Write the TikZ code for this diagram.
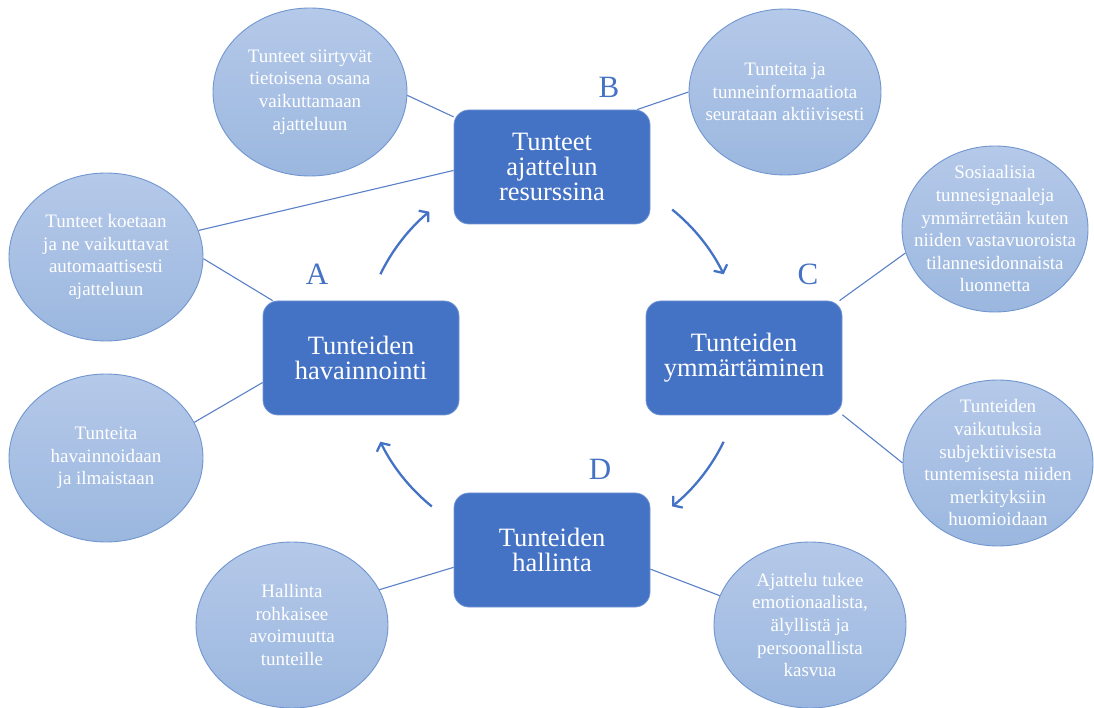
\documentclass[tikz,border=0pt]{standalone}
\usepackage{fontspec}
\setmainfont{Liberation Serif}
\usetikzlibrary{shapes.geometric,arrows.meta}
\definecolor{boxblue}{HTML}{4472C4}
\definecolor{bubtop}{HTML}{B5C9E9}
\definecolor{bubbot}{HTML}{9BB7DF}
\definecolor{bubline}{HTML}{7196D0}
\definecolor{linkblue}{HTML}{5A80C8}
\tikzset{
  x=1pt, y=1pt,
  stagebox/.style={rectangle, rounded corners=15pt, fill=boxblue, draw=boxblue!75!white, line width=0.8pt,
    minimum width=196pt, minimum height=114pt, inner sep=0pt, align=center, text=white,
    font=\fontsize{26.5}{25}\selectfont},
  bub/.style={ellipse, top color=bubtop, bottom color=bubbot, draw=bubline, line width=0.9pt,
    minimum width=#1, minimum height=166pt, inner sep=0pt},
  bubtext/.style={align=center, text=white, inner sep=0pt, font=\fontsize{19}{22.6}\selectfont},
  letter/.style={text=boxblue, font=\fontsize{31}{31}\selectfont, inner sep=0pt},
  link/.style={draw=linkblue, line width=1.1pt},
  cyc/.style={draw=boxblue, line width=2.3pt, -{Straight Barb[length=6pt,width=15pt,line width=2.3pt]}}
}
\begin{document}
\begin{tikzpicture}
\useasboundingbox (0,0) rectangle (1094,707);
% stage boxes
\node[stagebox] (A) at (361,349) {Tunteiden\\havainnointi};
\node[stagebox] (B) at (552,540) {Tunteet\\ajattelun\\resurssina};
\node[stagebox] (C) at (744,349) {Tunteiden\\ymmärtäminen};
\node[stagebox] (D) at (552,157) {Tunteiden\\hallinta};
% letters
\node[letter] (LA) at (317,433) {A};
\node[letter] (LB) at (609,620) {B};
\node[letter] (LC) at (808,433) {C};
\node[letter] (LD) at (600,238) {D};
% bubbles
\node[bub=194pt, minimum height=168pt] (E1) at (310,615) {};
\node[bubtext] (E1t) at (E1) {Tunteet siirtyvät\\tietoisena osana\\vaikuttamaan\\ajatteluun};
\node[bub=192pt] (E2) at (785,615) {};
\node[bubtext] (E2t) at (E2) {Tunteita ja\\tunneinformaatiota\\seurataan aktiivisesti};
\node[bub=186pt] (E3) at (995,478) {};
\node[bubtext] (E3t) at (E3) {Sosiaalisia\\tunnesignaaleja\\ymmärretään kuten\\niiden vastavuoroista\\tilannesidonnaista\\luonnetta};
\node[bub=194pt, minimum height=168pt] (E4) at (106,450) {};
\node[bubtext] (E4t) at (E4) {Tunteet koetaan\\ja ne vaikuttavat\\automaattisesti\\ajatteluun};
\node[bub=194pt, minimum height=168pt] (E5) at (106,249) {};
\node[bubtext] (E5t) at (E5) {Tunteita\\havainnoidaan\\ja ilmaistaan};
\node[bub=190pt] (E6) at (998,244) {};
\node[bubtext] (E6t) at (E6) {Tunteiden\\vaikutuksia\\subjektiivisesta\\tuntemisesta niiden\\merkityksiin\\huomioidaan};
\node[bub=192pt] (E7) at (810,82) {};
\node[bubtext] (E7t) at (E7) {Ajattelu tukee\\emotionaalista,\\älyllistä ja\\persoonallista\\kasvua};
\node[bub=192pt] (E8) at (292,82) {};
\node[bubtext] (E8t) at (E8) {Hallinta\\rohkaisee\\avoimuutta\\tunteille};
% links
\draw[link] (E1.-2) -- (B.153);
\draw[link] (E4.16) -- (B.182);
\draw[link] (E2.180) -- (B.34);
\draw[link] (E3.195) -- (C.31);
\draw[link] (E4.-1) -- (A.147);
\draw[link] (E5.22) -- (A.194);
\draw[link] (E6.180) -- (C.-30);
\draw[link] (E7.162) -- (D.-11);
\draw[link] (E8.22) -- (D.190);
% cycle arrows
\coordinate (cen) at (552,349);
\draw[cyc] ([shift={(154:191)}]cen) arc[start angle=154, end angle=130, radius=191];
\draw[cyc] ([shift={(51:191)}]cen) arc[start angle=51, end angle=26, radius=191];
\draw[cyc] ([shift={(-26:191)}]cen) arc[start angle=-26, end angle=-51, radius=191];
\draw[cyc] ([shift={(231:191)}]cen) arc[start angle=231, end angle=206, radius=191];
\end{tikzpicture}
\end{document}
